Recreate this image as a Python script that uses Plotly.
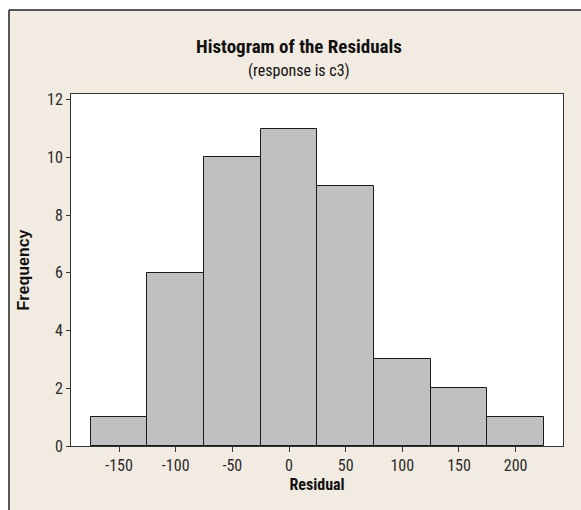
import plotly.graph_objects as go

bin_centers = [-150, -100, -50, 0, 50, 100, 150, 200]
frequencies = [1, 6, 10, 11, 9, 3, 2, 1]
bin_width = 50
x_ticks = [-150, -100, -50, 0, 50, 100, 150, 200]
y_ticks = [0, 2, 4, 6, 8, 10, 12]

NARROW = "Liberation Sans Narrow, Arial Narrow, Roboto Condensed, Liberation Sans, sans-serif"
BEIGE = "#f1ebe1"

fig = go.Figure()
fig.add_trace(go.Bar(
    x=bin_centers, y=frequencies, width=[bin_width] * len(bin_centers),
    marker=dict(color="#c0c0c0", line=dict(color="#1a1a1a", width=1)),
    hoverinfo="x+y",
))

L, R, T, B = 71, 18, 94, 64
W, H = 581, 510
pw, ph = W - L - R, H - T - B

def px2x(px):
    return (px - L) / pw

def px2y(py):
    return (H - B - py) / ph

fig.update_layout(
    width=W, height=H,
    margin=dict(l=L, r=R, t=T, b=B, pad=0),
    paper_bgcolor="white",
    plot_bgcolor="white",
    showlegend=False,
    bargap=0,
    xaxis=dict(
        range=[-192.4, 241.8], tickvals=x_ticks, ticktext=[str(v) for v in x_ticks],
        ticks="outside", ticklen=5, tickcolor="#333", showgrid=False, zeroline=False,
        showline=True, linecolor="#333", linewidth=1, mirror=True,
        tickfont=dict(family=NARROW, size=16, color="#2a2a2a"),
        title=dict(text="<b>Residual</b>", font=dict(family=NARROW, size=16, color="#111"), standoff=3),
    ),
    yaxis=dict(
        range=[0, 12.2], tickvals=y_ticks,
        ticks="outside", ticklen=4, tickcolor="#333", showgrid=False, zeroline=False,
        showline=True, linecolor="#333", linewidth=1, mirror=True,
        tickfont=dict(family=NARROW, size=16, color="#2a2a2a"),
        title=dict(text="<b>Frequency</b>", font=dict(family="Liberation Sans, Arial, sans-serif", size=16, color="#111"), standoff=13),
    ),
    shapes=[
        dict(type="rect", xref="paper", yref="paper", layer="below",
             x0=px2x(9), x1=px2x(600), y0=px2y(530), y1=px2y(10),
             fillcolor=BEIGE, line=dict(width=0)),
        dict(type="line", xref="paper", yref="paper", x0=px2x(9), x1=px2x(600), y0=px2y(10), y1=px2y(10),
             line=dict(color="#222", width=1.5)),
        dict(type="line", xref="paper", yref="paper", x0=px2x(9), x1=px2x(9), y0=px2y(10), y1=px2y(530),
             line=dict(color="#222", width=1.5)),
        dict(type="rect", xref="paper", yref="paper", layer="below",
             x0=0, x1=1, y0=0, y1=1, fillcolor="white", line=dict(width=0)),
    ],
    annotations=[
        dict(text="<b>Histogram of the Residuals</b>", xref="paper", yref="paper",
             x=px2x(299), y=px2y(47), showarrow=False, xanchor="center", yanchor="middle",
             font=dict(family=NARROW, size=19, color="#111")),
        dict(text="(response is c3)", xref="paper", yref="paper",
             x=px2x(299), y=px2y(70), showarrow=False, xanchor="center", yanchor="middle",
             font=dict(family=NARROW, size=16, color="#111")),
    ],
)

fig.write_html("out.html", config={"displayModeBar": False},
               post_script="document.body.style.margin='0';document.body.style.overflow='hidden';")
